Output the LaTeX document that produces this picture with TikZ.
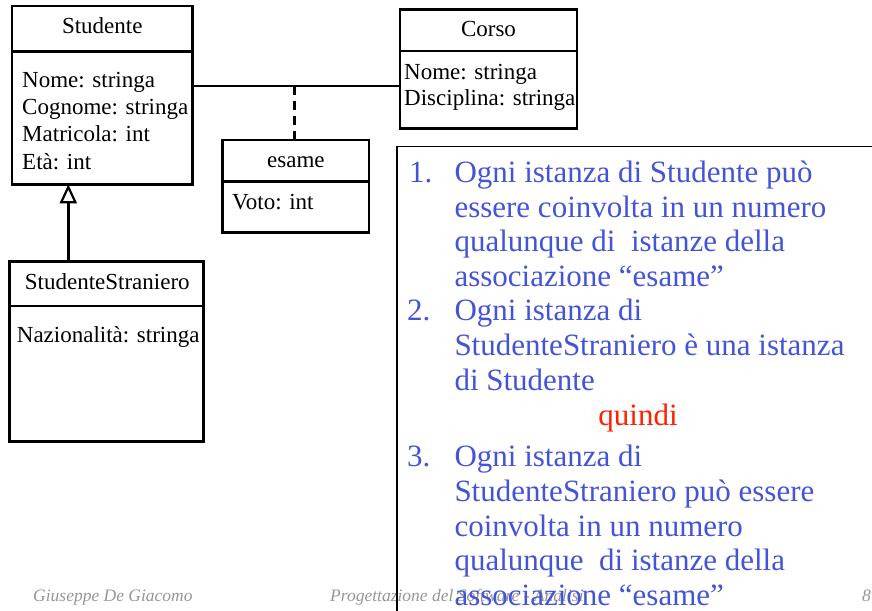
\documentclass[tikz,border=0pt]{standalone}
\usepackage{fontspec}
\setmainfont{Liberation Serif}
\usetikzlibrary{arrows.meta}
\definecolor{txtblue}{RGB}{68,84,214}
\definecolor{txtred}{RGB}{255,32,0}
\definecolor{footgray}{RGB}{150,150,150}
\tikzset{
  clsbox/.style={draw, line width=2.5pt, anchor=north west, inner sep=0pt, outer sep=0pt},
  divline/.style={line width=2.5pt},
  attr/.style={anchor=base west, inner sep=0pt, font=\fontsize{23}{27}\selectfont},
  ttl/.style={anchor=base, inner sep=0pt, font=\fontsize{23}{27}\selectfont},
  assoc/.style={line width=2.4pt},
  bl/.style={anchor=base west, inner sep=0pt, text=txtblue, font=\fontsize{31}{35}\selectfont},
  foot/.style={anchor=base west, inner sep=0pt, text=footgray, font=\fontsize{17.5}{20}\selectfont\itshape},
}
\begin{document}
\begin{tikzpicture}[x=1pt,y=-1pt]
\useasboundingbox (0,0) rectangle (872,610);

% footer (drawn first; box edge crosses it)
\node[foot] (f1) at (33,601) {Giuseppe De Giacomo};
\node[foot] (f2) at (330,601) {Progettazione del Software - Analisi};
\node[foot] (f3) at (862,601) {8};

% Studente
\node[clsbox, minimum width=180.7pt, minimum height=178.3pt] (stud) at (12,6) {};
\draw[divline] (12,51.7) -- (192.7,51.7);
\node[ttl] (studt) at (102.3,34) {Studente};
\node[attr] (sa1) at (22,87.3) {Nome: stringa};
\node[attr] (sa2) at (22,114) {Cognome: stringa};
\node[attr] (sa3) at (22,141.5) {Matricola: int};
\node[attr] (sa4) at (22,169) {Età: int};

% Corso
\node[clsbox, minimum width=177pt, minimum height=119pt] (corso) at (400,9.3) {};
\draw[divline] (400,51) -- (577,51);
\node[ttl] (corsot) at (488.5,36.7) {Corso};
\node[attr] (ca1) at (404,79.3) {Nome: stringa};
\node[attr] (ca2) at (404,105.3) {Disciplina: stringa};

% esame
\node[clsbox, minimum width=146.3pt, minimum height=92.7pt] (esame) at (222.7,140) {};
\draw[divline] (222.7,181.7) -- (369,181.7);
\node[ttl] (esamet) at (295.9,167.7) {esame};
\node[attr] (ea1) at (232,209.3) {Voto: int};

% StudenteStraniero
\node[clsbox, minimum width=194pt, minimum height=180pt] (ss) at (9.3,261.7) {};
\draw[divline] (9.3,306) -- (203.3,306);
\node[ttl] (sst) at (107.3,289.3) {StudenteStraniero};
\node[attr] (ssa1) at (16.7,342.7) {Nazionalità: stringa};

% association
\draw[assoc] (stud.east |- 0,86) -- (corso.west |- 0,86);
\coordinate (amid) at (294.3,86);
\draw[assoc, dash pattern=on 9pt off 6pt] (amid) -- (amid |- esame.north);

% generalization
\draw[line width=2.4pt, -{Triangle[open, width=17pt, length=19pt, line width=2.2pt]}]
  (ss.north -| 68.3,0) -- (stud.south -| 68.3,0);

% text box
\draw[line width=1.3pt] (397,615) -- (397,146.7) -- (875,146.7);

% list
\node[bl] (n1) at (409,182.5) {1.};
\node[bl] (t11) at (454.3,182.5) {Ogni istanza di Studente può};
\node[bl] (t12) at (454.3,217) {essere coinvolta in un numero};
\node[bl] (t13) at (454.3,251.5) {qualunque di\ \ istanze della};
\node[bl] (t14) at (454.3,286) {associazione “esame”};
\node[bl] (n2) at (407,320.5) {2.};
\node[bl] (t21) at (454.3,320.5) {Ogni istanza di};
\node[bl] (t22) at (454.3,355) {StudenteStraniero è una istanza};
\node[bl] (t23) at (454.3,390) {di Studente};
\node[anchor=base, inner sep=0pt, text=txtred, font=\fontsize{31}{35}\selectfont] (q) at (638,425) {quindi};
\node[bl] (n3) at (407,466) {3.};
\node[bl] (t31) at (454.3,466) {Ogni istanza di};
\node[bl] (t32) at (454.3,501) {StudenteStraniero può essere};
\node[bl] (t33) at (454.3,536) {coinvolta in un numero};
\node[bl] (t34) at (454.3,570.5) {qualunque\ \ di istanze della};
\node[bl] (t35) at (454.3,605) {associazione “esame”};
\end{tikzpicture}
\end{document}
